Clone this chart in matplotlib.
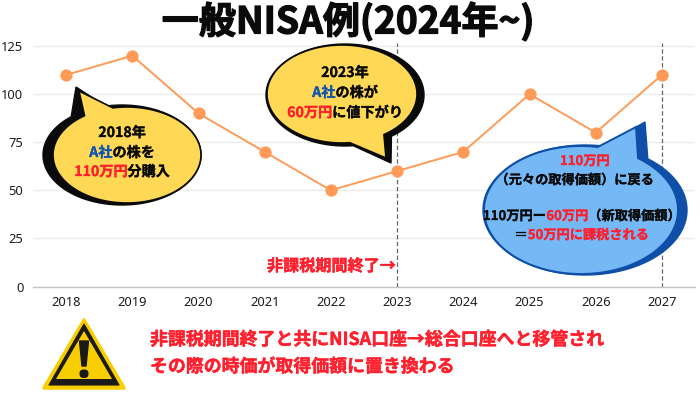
#!/usr/bin/env python3
"""NISA example chart: stock price line with speech bubbles drawn on a pixel overlay."""
import numpy as np
import matplotlib
matplotlib.use('Agg')
import matplotlib.pyplot as plt
import matplotlib.patheffects as pe
from matplotlib.patches import Polygon, FancyBboxPatch

plt.rcParams['font.family'] = ['Noto Sans CJK JP', 'DejaVu Sans']

years = ['2018', '2019', '2020', '2021', '2022', '2023', '2024', '2025', '2026', '2027']
prices = [110, 120, 90, 70, 50, 60, 70, 100, 80, 110]
y_ticks = [0, 25, 50, 75, 100, 125]
marked_years = ['2023', '2027']

RED = '#ff1f2d'
BLUE = '#1155b0'
BLACK = '#0a0a0a'
W, H = 700, 394

fig = plt.figure(figsize=(7, 3.94), dpi=100)
ax = fig.add_axes([33 / W, 1 - 286.5 / H, 662 / W, 243.5 / H])
ax.plot(years, prices, '-o', color='#ff9a57', lw=1.4, ms=7.8, mec='#ff9a57', zorder=3, clip_on=False)
ax.set_xlim(-0.5, 9.5)
ax.set_ylim(0, 126.6)
ax.set_yticks(y_ticks)
ax.grid(axis='y', color='#ebebeb', lw=1.0)
ax.set_axisbelow(True)
for s in ('top', 'right', 'left'):
    ax.spines[s].set_visible(False)
ax.spines['bottom'].set_color('#c4c4c4')
ax.spines['bottom'].set_linewidth(1.0)
ax.tick_params(length=0, pad=7, labelsize=9.3, labelcolor='#1c1c1c')
for lab in ax.get_xticklabels() + ax.get_yticklabels():
    lab.set_fontfamily(['Noto Sans', 'DejaVu Sans'])
    lab.set_fontweight('semibold')
for yr in marked_years:
    ax.axvline(years.index(yr), color='#666666', lw=0.9, ls=(0, (3.5, 2)), zorder=2)

# overlay in reference pixels, y pointing down
ov = fig.add_axes([0, 0, 1, 1], zorder=5)
ov.set_xlim(0, W)
ov.set_ylim(H, 0)
ov.axis('off')
ov.patch.set_alpha(0)


def bubble_points(cx, cy, a, b, tip, lo, hi):
    """Ellipse outline with a tail out to tip, replacing the arc between angles lo..hi (deg)."""
    t = np.radians(np.arange(hi, lo + 360, 2.0))
    pts = np.column_stack([cx + a * np.cos(t), cy + b * np.sin(t)])
    return np.vstack([pts, [tip]])


def thick(color, w=0.2):
    return [pe.withStroke(linewidth=w, foreground=color)]


def rich_line(x, y, parts, size):
    """One centred line of text made of (string, colour) pieces."""
    rend = fig.canvas.get_renderer()
    items = [ov.text(0, y, s, color=c, fontsize=size, fontweight='bold', va='center', ha='left',
                     path_effects=thick(c)) for s, c in parts]
    widths = [t.get_window_extent(rend).width for t in items]
    cur = x - sum(widths) / 2
    for t, w in zip(items, widths):
        t.set_x(cur)
        cur += w


# bubble 1 - yellow, shadow on the left
ov.add_patch(Polygon(bubble_points(122, 155, 79, 50, (76, 87), 232, 258), fc=BLACK, ec=BLACK, lw=1, zorder=1))
ov.add_patch(Polygon(bubble_points(127, 155, 74, 48, (79, 91), 236, 259), fc='#ffd955', ec=BLACK, lw=1.2, zorder=2))
rich_line(122, 133, [('2018年', BLACK)], 10.2)
rich_line(122, 153, [('A社', BLUE), ('の株を', BLACK)], 10.2)
rich_line(122, 172, [('110万円', RED), ('分購入', BLACK)], 10.2)

# bubble 2 - yellow, shadow on the right
ov.add_patch(Polygon(bubble_points(345, 95, 79, 51, (391, 163), 56, 84), fc=BLACK, ec=BLACK, lw=1, zorder=1))
ov.add_patch(Polygon(bubble_points(342, 94, 75, 49, (386, 158), 58, 84), fc='#ffd955', ec=BLACK, lw=1.2, zorder=2))
rich_line(345, 73, [('2023年', BLACK)], 10.2)
rich_line(345, 93, [('A社', BLUE), ('の株が', BLACK)], 10.2)
rich_line(345, 113, [('60万円', RED), ('に値下がり', BLACK)], 10.2)

# bubble 3 - light blue, thick edge on the right
ov.add_patch(Polygon(bubble_points(585, 210, 102, 65, (645, 122), 281, 308), fc='#0f4fa8', ec='#0f4fa8', lw=1, zorder=1))
ov.add_patch(Polygon(bubble_points(581, 210, 97, 64, (636, 127), 281, 306), fc='#74b8f5', ec='#0f4fa8', lw=1.4, zorder=2))
rich_line(585, 161, [('110万円', RED)], 9.5)
rich_line(575, 180, [('（元々の取得価額）に戻る', BLACK)], 9.5)
rich_line(582, 216, [('110万円ー', BLACK), ('60万円', RED), ('（新取得価額）', BLACK)], 9.5)
rich_line(582, 235, [('＝', BLACK), ('50万円に課税される', RED)], 9.5)

# title and plain labels
ov.text(348, 22, '一般NISA例(2024年~)', fontsize=26.7, fontweight='bold', color=BLACK, ha='center', va='center',
        path_effects=thick(BLACK, 0.9))
ov.text(396, 266, '非課税期間終了→', fontsize=11.6, fontweight='bold', color=RED, ha='right', va='center',
        path_effects=thick(RED, 0.3))
ov.text(150, 340, '非課税期間終了と共にNISA口座→総合口座へと移管され', fontsize=12.9, fontweight='bold', color=RED,
        ha='left', va='center', path_effects=thick(RED, 0.3))
ov.text(150, 367, 'その際の時価が取得価額に置き換わる', fontsize=12.9, fontweight='bold', color=RED,
        ha='left', va='center', path_effects=thick(RED, 0.3))

# warning sign
ov.add_patch(Polygon([(84, 320), (124, 388), (44, 388)], fc='#f8ce00', ec='#f8ce00', lw=2.5, joinstyle='round'))
ov.add_patch(Polygon([(84, 324), (119, 385), (49, 385)], fc='#1a1a1a', ec='#1a1a1a', lw=0.8, joinstyle='round'))
ov.add_patch(Polygon([(84, 331), (112, 379), (56, 379)], fc='#f8ce00', ec='none'))
ov.add_patch(Polygon([(79.5, 341), (88.5, 341), (86, 366), (82, 366)], fc='#1a1a1a', ec='#1a1a1a', lw=1, joinstyle='round'))
ov.add_patch(FancyBboxPatch((79.5, 369.5), 9, 8.5, boxstyle='round,pad=0,rounding_size=4', fc='#1a1a1a', ec='none'))

fig.savefig('out.png', dpi=100)
